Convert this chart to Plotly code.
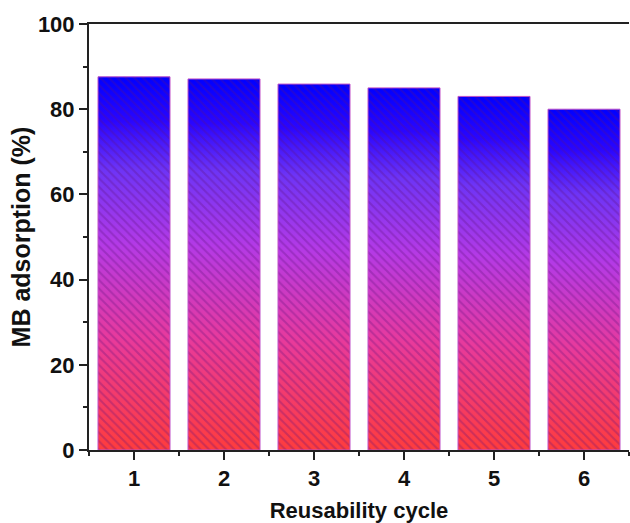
import plotly.graph_objects as go

cycles = [1, 2, 3, 4, 5, 6]
adsorption = [87.6, 87.1, 85.9, 85.0, 83.0, 80.0]
y_ticks = [0, 20, 40, 60, 80, 100]

bar_width = 0.8
grad_scale = [[0, '#ff3c3c'], [0.3, '#e83a9c'], [0.55, '#b43ae6'],
              [0.75, '#6e34f6'], [0.88, '#2a06ff'], [1, '#0000ff']]

fig = go.Figure()
# gradient fill underlay for each bar (derived from data values)
for c, v in zip(cycles, adsorption):
    h = bar_width / 2
    fig.add_trace(go.Scatter(
        x=[c - h, c + h, c + h, c - h, c - h],
        y=[0, 0, v, v, 0],
        mode='lines', line=dict(width=0), fill='toself',
        fillgradient=dict(type='vertical', colorscale=grad_scale, start=0, stop=v),
        hoverinfo='skip', showlegend=False))

# hatched bars with outline on an overlaid axis so they sit above the gradients
fig.add_trace(go.Bar(
    x=cycles, y=adsorption, width=bar_width, yaxis='y2',
    marker=dict(
        color='rgba(0,0,0,0)',
        line=dict(color='#c050c8', width=1),
        pattern=dict(shape='\\', fgcolor='rgba(95,15,125,0.6)', bgcolor='rgba(0,0,0,0)',
                     size=6, solidity=0.35, fillmode='overlay')),
    showlegend=False))

fig.update_layout(
    width=630, height=523,
    margin=dict(l=89, r=1, t=24, b=73),
    plot_bgcolor='white', paper_bgcolor='white',
    font=dict(family='Liberation Sans, Arial, sans-serif', size=22, color='#111'),
    xaxis=dict(
        range=[0.5, 6.5], tickvals=cycles, ticktext=[f'<b>{c}</b>' for c in cycles],
        ticks='outside', ticklen=8, tickwidth=2, tickcolor='#222',
        minor=dict(dtick=0.5, tick0=0.5, ticks='outside', ticklen=4, tickwidth=2, tickcolor='#222'),
        showline=True, linewidth=2, linecolor='#222', mirror=True,
        showgrid=False, zeroline=False, automargin=False,
        title=dict(text='<b>Reusability cycle</b>', font=dict(size=22), standoff=18)),
    yaxis=dict(
        range=[0, 100], tickvals=y_ticks, ticktext=[f'<b>{t}</b>' for t in y_ticks],
        ticks='outside', ticklen=8, tickwidth=2, tickcolor='#222',
        minor=dict(dtick=10, ticks='outside', ticklen=4, tickwidth=2, tickcolor='#222'),
        showline=True, linewidth=2, linecolor='#222',
        showgrid=False, zeroline=False, automargin=False,
        title=dict(text='<b>MB adsorption (%)</b>', font=dict(size=25), standoff=0)),
    yaxis2=dict(range=[0, 100], overlaying='y', visible=False, showgrid=False, zeroline=False),
)

fig.write_html('out.html')
